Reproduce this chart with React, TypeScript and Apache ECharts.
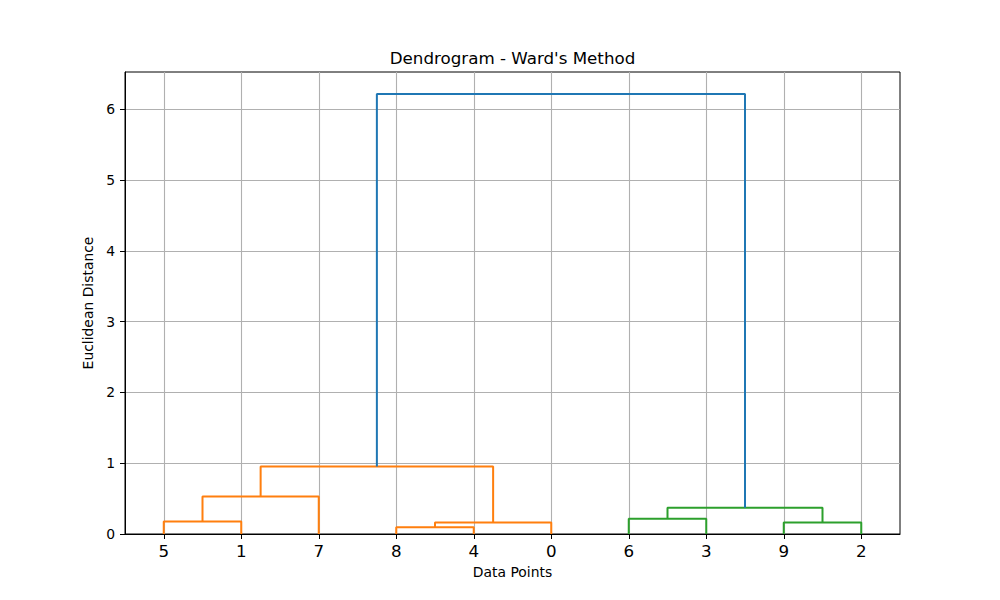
import React, { useEffect, useRef } from "react";
import * as echarts from "echarts";

// Leaf labels in dendrogram order (left to right)
const leafLabels = ["5", "1", "7", "8", "4", "0", "6", "3", "9", "2"];
// Leaf positions in dendrogram coordinates
const leafPositions = [5, 15, 25, 35, 45, 55, 65, 75, 85, 95];

// Link coordinates (scipy-style icoord / dcoord) and colours
const linkX = [
  [5, 5, 15, 15],
  [10, 10, 25, 25],
  [35, 35, 45, 45],
  [40, 40, 55, 55],
  [17.5, 17.5, 47.5, 47.5],
  [65, 65, 75, 75],
  [85, 85, 95, 95],
  [70, 70, 90, 90],
  [32.5, 32.5, 80, 80],
];
const linkY = [
  [0, 0.178, 0.178, 0],
  [0.178, 0.531, 0.531, 0],
  [0, 0.094, 0.094, 0],
  [0.094, 0.164, 0.164, 0],
  [0.531, 0.955, 0.955, 0.164],
  [0, 0.216, 0.216, 0],
  [0, 0.164, 0.164, 0],
  [0.216, 0.371, 0.371, 0.164],
  [0.955, 6.216, 6.216, 0.371],
];
const linkColors = [
  "#ff7f0e", "#ff7f0e", "#ff7f0e", "#ff7f0e", "#ff7f0e",
  "#2ca02c", "#2ca02c", "#2ca02c",
  "#1f77b4",
];
const yTicks = [0, 1, 2, 3, 4, 5, 6];
const yMax = 6.527;

const FONT = "DejaVu Sans";

export default function App() {
  const ref = useRef<HTMLDivElement>(null);
  useEffect(() => {
    if (!ref.current) return;
    const chart = echarts.init(ref.current, undefined, { renderer: "svg" });
    const series = linkX.map((xs, i) => ({
      type: "line",
      data: xs.map((x, j) => [x, linkY[i][j]]),
      showSymbol: false,
      symbol: "none",
      lineStyle: { color: linkColors[i], width: 2 },
      itemStyle: { color: linkColors[i] },
      silent: true,
      z: 3,
    }));
    chart.setOption({
      animation: false,
      backgroundColor: "#ffffff",
      textStyle: { fontFamily: FONT },
      title: {
        text: "Dendrogram - Ward's Method",
        left: 507.5,
        top: 44,
        textAlign: "center",
        textStyle: { fontFamily: FONT, fontSize: 16.7, fontWeight: "normal", color: "#000" },
      },
      grid: {
        left: 125,
        right: 100,
        top: 72,
        bottom: 66,
        show: true,
        borderColor: "#000",
        borderWidth: 1,
        containLabel: false,
      },
      xAxis: {
        type: "value",
        min: 0,
        max: 100,
        name: "Data Points",
        nameLocation: "middle",
        nameGap: 31,
        nameTextStyle: { fontFamily: FONT, fontSize: 13.9, color: "#000" },
        axisLine: { show: true, onZero: false, lineStyle: { color: "#000", width: 1 } },
        axisTick: { show: true, length: 5, customValues: leafPositions, lineStyle: { color: "#000", width: 1 } },
        axisLabel: {
          customValues: leafPositions,
          margin: 8,
          fontFamily: FONT,
          fontSize: 16.7,
          color: "#000",
          formatter: (v: number) => {
            const idx = leafPositions.indexOf(v);
            return idx >= 0 ? leafLabels[idx] : "";
          },
        },
        splitLine: { show: true, lineStyle: { color: "#b0b0b0", width: 1.1 } },
      },
      yAxis: {
        type: "value",
        min: 0,
        max: yMax,
        name: "Euclidean Distance",
        nameLocation: "middle",
        nameGap: 23,
        nameRotate: 90,
        nameTextStyle: { fontFamily: FONT, fontSize: 13.9, color: "#000" },
        axisLine: { show: true, lineStyle: { color: "#000", width: 1 } },
        axisTick: { show: true, length: 5, customValues: yTicks, lineStyle: { color: "#000", width: 1 } },
        axisLabel: {
          customValues: yTicks,
          margin: 10,
          fontFamily: FONT,
          fontSize: 13.9,
          color: "#000",
        },
        splitLine: { show: true, lineStyle: { color: "#b0b0b0", width: 1.1 } },
      },
      series,
    });
    return () => chart.dispose();
  }, []);
  return (
    <div
      ref={ref}
      style={{ position: "fixed", left: 0, top: 0, width: 1000, height: 600, background: "#fff" }}
    />
  );
}
